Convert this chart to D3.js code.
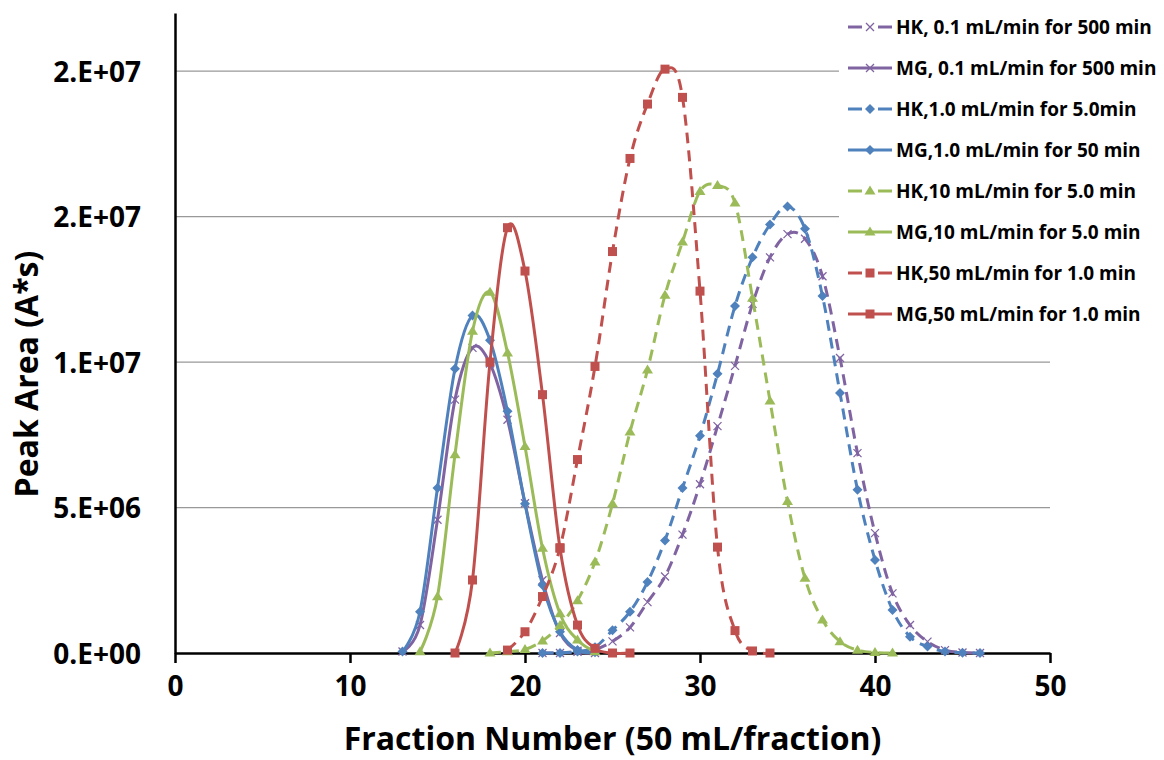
<!DOCTYPE html>
<html>
<head>
<meta charset="utf-8">
<script src="https://cdn.jsdelivr.net/npm/d3@7"></script>
<style>
  html, body { margin: 0; padding: 0; background: #fff; }
  svg { display: block; font-family: "Open Sans", Lato, sans-serif; font-weight: bold; }
</style>
</head>
<body>
<svg id="chart" width="1164" height="760"></svg>
<script>
// Peak area (millions of A*s) per fraction, one pair of arrays per run
const hk01X = [21,22,23,24,25,26,27,28,29,30,31,32,33,34,35,36,37,38,39,40,41,42,43,44,45,46];
const hk01Y = [0,0,0.04,0.12,0.4,0.88,1.75,2.63,4.07,5.8,7.8,9.87,12.0,13.6,14.4,14.24,12.95,10.14,6.87,4.12,2.05,0.96,0.39,0.1,0.02,0];

const mg01X = [13,14,15,16,17,18,19,20,21,22,23,24];
const mg01Y = [0.05,0.96,4.58,8.71,10.49,9.95,8.02,5.15,2.5,0.69,0.08,0];

const hk10X = [21,22,23,24,25,26,27,28,29,30,31,32,33,34,35,36,37,38,39,40,41,42,43,44,45,46];
const hk10Y = [0,0,0.05,0.2,0.78,1.42,2.44,3.87,5.67,7.47,9.6,11.93,13.6,14.73,15.35,14.58,12.27,8.94,5.61,3.2,1.48,0.56,0.22,0.05,0.01,0];

const mg10X = [13,14,15,16,17,18,19,20,21,22,23,24];
const mg10Y = [0.05,1.42,5.67,9.77,11.6,10.75,8.31,5.13,2.34,0.73,0.1,0.03];

const hk100X = [18,19,20,21,22,23,24,25,26,27,28,29,30,31,32,33,34,35,36,37,38,39,40,41];
const hk100Y = [0,0.05,0.12,0.42,0.95,1.8,3.13,5.13,7.6,9.73,12.3,14.13,15.87,16.07,15.47,12.2,8.67,5.21,2.57,1.14,0.39,0.1,0.02,0];

const mg100X = [14,15,16,17,18,19,20,21,22,23,24];
const mg100Y = [0.05,1.94,6.82,11.06,12.4,10.32,7.1,3.6,1.35,0.45,0.05];

const hk500X = [19,20,21,22,23,24,25,26,27,28,29,30,31,32,33,34];
const hk500Y = [0.1,0.73,1.94,3.62,6.65,9.85,13.8,17.0,18.87,20.07,19.1,12.44,3.64,0.77,0.07,0];

const mg500X = [16,17,18,19,20,21,22,23,24,25,26];
const mg500Y = [0,2.51,10.0,14.62,13.13,8.88,3.6,0.96,0.16,0,0];

const seriesNames = [
  "HK, 0.1 mL/min for 500 min",
  "MG, 0.1 mL/min for 500 min",
  "HK,1.0 mL/min for 5.0min",
  "MG,1.0 mL/min for 50 min",
  "HK,10 mL/min for 5.0 min",
  "MG,10 mL/min for 5.0 min",
  "HK,50 mL/min for 1.0 min",
  "MG,50 mL/min for 1.0 min"
];

const xTicks = [0,10,20,30,40,50];
const yTicks = [0,5,10,15,20];
const yTickLabels = ["0.E+00","5.E+06","1.E+07","2.E+07","2.E+07"];

const xTitle = "Fraction Number (50 mL/fraction)";
const yTitle = "Peak Area (A*s)";

// series styling
const purple = "#8064A2", blue = "#4F81BD", green = "#9BBB59", red = "#C0504D";
const series = [
  {name: seriesNames[0], x: hk01X,  y: hk01Y,  color: purple, dashed: true,  marker: "x"},
  {name: seriesNames[1], x: mg01X,  y: mg01Y,  color: purple, dashed: false, marker: "x"},
  {name: seriesNames[2], x: hk10X,  y: hk10Y,  color: blue,   dashed: true,  marker: "diamond"},
  {name: seriesNames[3], x: mg10X,  y: mg10Y,  color: blue,   dashed: false, marker: "diamond"},
  {name: seriesNames[4], x: hk100X, y: hk100Y, color: green,  dashed: true,  marker: "triangle"},
  {name: seriesNames[5], x: mg100X, y: mg100Y, color: green,  dashed: false, marker: "triangle"},
  {name: seriesNames[6], x: hk500X, y: hk500Y, color: red,    dashed: true,  marker: "square"},
  {name: seriesNames[7], x: mg500X, y: mg500Y, color: red,    dashed: false, marker: "square"}
];

const svg = d3.select("#chart");
const plot = {left: 175, right: 1050, top: 13, bottom: 653};

const x = d3.scaleLinear().domain([0, 50]).range([plot.left, plot.right]);
const y = d3.scaleLinear().domain([0, 22]).range([plot.bottom, plot.top]);

// horizontal gridlines
svg.append("g")
  .selectAll("line")
  .data(yTicks.filter(d => d > 0))
  .join("line")
  .attr("x1", plot.left).attr("x2", plot.right)
  .attr("y1", d => y(d)).attr("y2", d => y(d))
  .attr("stroke", "#999").attr("stroke-width", 1.2);

// y axis
const yAxis = d3.axisLeft(y).tickValues(yTicks).tickSize(0).tickPadding(34)
  .tickFormat((d, i) => yTickLabels[i]);
const gy = svg.append("g").attr("transform", `translate(${plot.left},0)`).call(yAxis);
gy.select(".domain").attr("stroke", "#000").attr("stroke-width", 2.5);
gy.selectAll("text").attr("font-size", 28).attr("font-family", "Open Sans").attr("font-weight", "bold")
  .attr("fill", "#000").attr("dy", "0.36em");

// x axis
const xAxis = d3.axisBottom(x).tickValues(xTicks).tickSize(10).tickSizeOuter(0).tickPadding(13);
const gx = svg.append("g").attr("transform", `translate(0,${plot.bottom})`).call(xAxis);
gx.select(".domain").attr("stroke", "#000").attr("stroke-width", 2.5);
gx.selectAll(".tick line").attr("stroke", "#000").attr("stroke-width", 2.5);
gx.selectAll("text").attr("font-size", 28).attr("font-family", "Open Sans").attr("font-weight", "bold")
  .attr("fill", "#000");

// axis titles
svg.append("text")
  .attr("x", (plot.left + plot.right) / 2).attr("y", 750)
  .attr("text-anchor", "middle").attr("font-size", 32)
  .text(xTitle);
svg.append("text")
  .attr("transform", "translate(38,374) rotate(-90)")
  .attr("text-anchor", "middle").attr("font-size", 32)
  .text(yTitle);

// markers
function drawMarker(g, type, color, cx, cy) {
  if (type === "x") {
    const r = 4;
    g.append("path")
      .attr("d", `M${cx - r},${cy - r}L${cx + r},${cy + r}M${cx - r},${cy + r}L${cx + r},${cy - r}`)
      .attr("stroke", color).attr("stroke-width", 1.3).attr("fill", "none");
  } else if (type === "diamond") {
    const r = 5;
    g.append("path")
      .attr("d", `M${cx},${cy - r}L${cx + r},${cy}L${cx},${cy + r}L${cx - r},${cy}Z`)
      .attr("fill", color);
  } else if (type === "triangle") {
    const w = 5.5, h = 9;
    g.append("path")
      .attr("d", `M${cx},${cy - h * 0.6}L${cx + w},${cy + h * 0.4}L${cx - w},${cy + h * 0.4}Z`)
      .attr("fill", color);
  } else {
    const s = 9;
    g.append("rect")
      .attr("x", cx - s / 2).attr("y", cy - s / 2).attr("width", s).attr("height", s)
      .attr("fill", color);
  }
}

const line = d3.line().x(d => x(d[0])).y(d => y(d[1])).curve(d3.curveCardinal.tension(0));

series.forEach(s => {
  const pts = s.x.map((v, i) => [v, s.y[i]]);
  const g = svg.append("g");
  g.append("path")
    .attr("d", line(pts))
    .attr("fill", "none")
    .attr("stroke", s.color)
    .attr("stroke-width", 3)
    .attr("stroke-dasharray", s.dashed ? "11,7" : null);
  pts.forEach(p => drawMarker(g, s.marker, s.color, x(p[0]), y(p[1])));
});

// legend
const legend = svg.append("g");
legend.append("rect").attr("x", 839).attr("y", 0).attr("width", 325).attr("height", 336).attr("fill", "#fff");
series.forEach((s, i) => {
  const ly = 27 + i * 41;
  const g = legend.append("g");
  if (s.dashed) {
    g.append("line").attr("x1", 848).attr("x2", 862).attr("y1", ly).attr("y2", ly)
      .attr("stroke", s.color).attr("stroke-width", 3);
    g.append("line").attr("x1", 878).attr("x2", 892).attr("y1", ly).attr("y2", ly)
      .attr("stroke", s.color).attr("stroke-width", 3);
  } else {
    g.append("line").attr("x1", 848).attr("x2", 892).attr("y1", ly).attr("y2", ly)
      .attr("stroke", s.color).attr("stroke-width", 3);
  }
  drawMarker(g, s.marker, s.color, 870, ly);
  g.append("text").attr("x", 896).attr("y", ly).attr("dy", "0.36em")
    .attr("font-size", 19).attr("fill", "#000").text(s.name);
});
</script>
</body>
</html>
